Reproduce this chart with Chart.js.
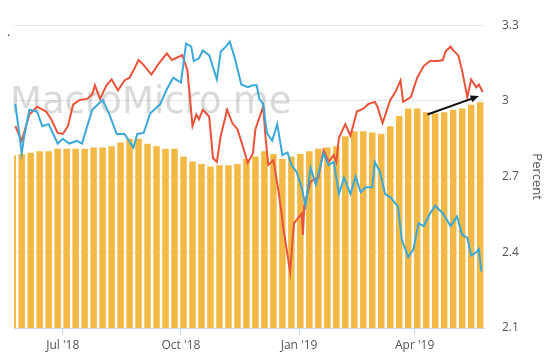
<!DOCTYPE html>
<html>
<head>
<meta charset="utf-8">
<script src="https://cdn.jsdelivr.net/npm/chart.js@4.4.0/dist/chart.umd.min.js"></script>
<style>
html, body { margin: 0; padding: 0; background: #fff; }
#wrap { width: 554px; height: 362px; }
</style>
</head>
<body>
<div id="wrap"><canvas id="chart"></canvas></div>
<script>
const startDate = "2018-05-24";
const endDate = "2019-05-25";
const tickDates = ["2018-07-01", "2018-10-01", "2019-01-01", "2019-04-01"];
const tickLabels = ["Jul '18", "Oct '18", "Jan '19", "Apr '19"];
const yTicks = [2.1, 2.4, 2.7, 3, 3.3];

// weekly bars
const barDates = ["2018-05-23", "2018-05-30", "2018-06-06", "2018-06-13", "2018-06-20", "2018-06-27",
    "2018-07-04", "2018-07-11", "2018-07-18", "2018-07-25", "2018-08-01", "2018-08-08", "2018-08-15",
    "2018-08-22", "2018-08-29", "2018-09-05", "2018-09-12", "2018-09-19", "2018-09-26", "2018-10-03",
    "2018-10-10", "2018-10-17", "2018-10-24", "2018-10-31", "2018-11-07", "2018-11-14", "2018-11-21",
    "2018-11-28", "2018-12-05", "2018-12-12", "2018-12-19", "2018-12-26", "2019-01-02", "2019-01-09",
    "2019-01-16", "2019-01-23", "2019-01-30", "2019-02-06", "2019-02-13", "2019-02-20", "2019-02-27",
    "2019-03-06", "2019-03-13", "2019-03-20", "2019-03-27", "2019-04-03", "2019-04-10", "2019-04-17",
    "2019-04-24", "2019-05-01", "2019-05-08", "2019-05-15", "2019-05-22"];
const barValues = [2.785, 2.79, 2.795, 2.80, 2.80, 2.81, 2.81, 2.81, 2.81, 2.815,
    2.815, 2.82, 2.835, 2.85, 2.85, 2.83, 2.82, 2.81, 2.81, 2.78,
    2.76, 2.75, 2.74, 2.745, 2.745, 2.75, 2.77, 2.78, 2.80, 2.79,
    2.77, 2.78, 2.79, 2.80, 2.81, 2.815, 2.82, 2.86, 2.88, 2.88,
    2.875, 2.87, 2.90, 2.94, 2.97, 2.97, 2.955, 2.95, 2.955, 2.965,
    2.97, 2.985, 2.995];

const redDates = ["2018-05-25", "2018-05-30", "2018-06-05", "2018-06-11", "2018-06-18", "2018-06-22",
    "2018-06-27", "2018-07-01", "2018-07-05", "2018-07-09", "2018-07-14", "2018-07-20", "2018-07-24",
    "2018-07-26", "2018-07-30", "2018-08-04", "2018-08-08", "2018-08-13", "2018-08-18", "2018-08-22",
    "2018-08-26", "2018-08-29", "2018-09-02", "2018-09-08", "2018-09-14", "2018-09-20", "2018-09-24",
    "2018-10-02", "2018-10-06", "2018-10-10", "2018-10-13", "2018-10-15", "2018-10-18", "2018-10-23",
    "2018-10-26", "2018-10-29", "2018-11-01", "2018-11-06", "2018-11-10", "2018-11-14", "2018-11-18",
    "2018-11-22", "2018-11-26", "2018-11-28", "2018-12-04", "2018-12-06", "2018-12-08", "2018-12-12",
    "2018-12-16", "2018-12-20", "2018-12-25", "2018-12-28", "2019-01-03", "2019-01-04", "2019-01-05",
    "2019-01-10", "2019-01-16", "2019-01-20", "2019-01-24", "2019-01-28", "2019-01-30", "2019-02-01",
    "2019-02-06", "2019-02-10", "2019-02-15", "2019-02-20", "2019-02-24", "2019-03-01", "2019-03-03",
    "2019-03-07", "2019-03-13", "2019-03-17", "2019-03-21", "2019-03-23", "2019-03-29", "2019-04-03",
    "2019-04-08", "2019-04-13", "2019-04-19", "2019-04-23", "2019-04-25", "2019-04-29", "2019-05-01",
    "2019-05-05", "2019-05-08", "2019-05-12", "2019-05-15", "2019-05-19", "2019-05-21", "2019-05-24"];
const redValues = [2.90, 2.842, 2.946, 2.977, 2.958, 2.927,
    2.873, 2.869, 2.90, 2.985, 3.004, 3.008, 3.027,
    3.062, 3.008, 3.062, 3.085, 3.042, 3.081, 3.092,
    3.131, 3.162, 3.142, 3.104, 3.15, 3.188, 3.162,
    3.181, 3.123, 2.90, 2.946, 2.927, 2.965, 2.938,
    2.773, 2.758, 2.862, 2.965, 2.912, 2.888, 2.823,
    2.754, 2.792, 2.888, 2.977, 2.85, 2.746, 2.765,
    2.642, 2.488, 2.323, 2.515, 2.554, 2.469, 2.585,
    2.681, 2.696, 2.804, 2.758, 2.785, 2.758, 2.854,
    2.908, 2.862, 2.958, 2.969, 2.988, 2.996, 2.977,
    2.912, 3.004, 3.035, 3.081, 2.996, 3.015, 3.092,
    3.138, 3.158, 3.158, 3.162, 3.196, 3.215, 3.20,
    3.181, 3.119, 3.015, 3.085, 3.054, 3.065, 3.035];

const blueDates = ["2018-05-25", "2018-05-27", "2018-05-30", "2018-06-01", "2018-06-05", "2018-06-11",
    "2018-06-15", "2018-06-20", "2018-06-27", "2018-07-01", "2018-07-06", "2018-07-12", "2018-07-16",
    "2018-07-20", "2018-07-24", "2018-08-01", "2018-08-06", "2018-08-12", "2018-08-18", "2018-08-25",
    "2018-08-28", "2018-09-02", "2018-09-07", "2018-09-15", "2018-09-20", "2018-09-25", "2018-10-01",
    "2018-10-05", "2018-10-09", "2018-10-11", "2018-10-15", "2018-10-18", "2018-10-23", "2018-10-29",
    "2018-11-01", "2018-11-05", "2018-11-08", "2018-11-12", "2018-11-17", "2018-11-22", "2018-11-26",
    "2018-11-29", "2018-12-01", "2018-12-04", "2018-12-07", "2018-12-11", "2018-12-15", "2018-12-19",
    "2018-12-23", "2018-12-26", "2018-12-30", "2019-01-03", "2019-01-06", "2019-01-10", "2019-01-14",
    "2019-01-20", "2019-01-24", "2019-01-28", "2019-02-01", "2019-02-05", "2019-02-10", "2019-02-14",
    "2019-02-18", "2019-02-22", "2019-02-27", "2019-03-01", "2019-03-05", "2019-03-09", "2019-03-13",
    "2019-03-19", "2019-03-22", "2019-03-27", "2019-03-31", "2019-04-04", "2019-04-08", "2019-04-13",
    "2019-04-17", "2019-04-23", "2019-04-29", "2019-05-04", "2019-05-08", "2019-05-12", "2019-05-15",
    "2019-05-19", "2019-05-21", "2019-05-23"];
const blueValues = [2.988, 2.912, 2.792, 2.862, 2.965, 2.958,
    2.90, 2.908, 2.831, 2.85, 2.831, 2.842, 2.831,
    2.90, 2.965, 3.004, 2.95, 2.869, 2.869, 2.815,
    2.869, 2.873, 2.95, 2.988, 3.046, 3.092, 3.073,
    3.227, 3.215, 3.158, 3.169, 3.20, 3.181, 3.085,
    3.196, 3.215, 3.235, 3.169, 3.065, 3.054, 3.062,
    3.062, 3.008, 2.988, 2.873, 2.842, 2.908, 2.785,
    2.796, 2.746, 2.719, 2.658, 2.585, 2.735, 2.669,
    2.792, 2.746, 2.758, 2.631, 2.696, 2.631, 2.70,
    2.638, 2.658, 2.658, 2.758, 2.719, 2.631, 2.619,
    2.581, 2.45, 2.381, 2.412, 2.515, 2.504, 2.554,
    2.585, 2.554, 2.504, 2.542, 2.469, 2.458, 2.388,
    2.40, 2.412, 2.323];

const arrowFrom = ["2019-04-11", 2.946];
const arrowTo = ["2019-05-21", 3.019];

function day(s) {
    return (Date.parse(s) - Date.parse(startDate)) / 86400000;
}
function points(dates, values) {
    return dates.map((d, i) => ({ x: day(d), y: values[i] }));
}

const watermark = {
    id: "watermark",
    beforeDatasetsDraw(chart) {
        const ctx = chart.ctx;
        const area = chart.chartArea;
        ctx.save();
        ctx.font = "37px 'DejaVu Sans'";
        ctx.fillStyle = "rgba(160,160,160,0.4)";
        ctx.textBaseline = "alphabetic";
        ctx.fillText("MacroMicro.me", area.left - 4, area.top + 88);
        ctx.font = "12px 'Open Sans'";
        ctx.fillStyle = "#333";
        ctx.fillText(".", area.left - 7, area.top + 11);
        ctx.restore();
    }
};

const arrow = {
    id: "arrow",
    afterDatasetsDraw(chart) {
        const ctx = chart.ctx;
        const xs = chart.scales.x, ys = chart.scales.y;
        const x1 = xs.getPixelForValue(day(arrowFrom[0])), y1 = ys.getPixelForValue(arrowFrom[1]);
        const x2 = xs.getPixelForValue(day(arrowTo[0])), y2 = ys.getPixelForValue(arrowTo[1]);
        const a = Math.atan2(y2 - y1, x2 - x1);
        ctx.save();
        ctx.strokeStyle = "#111";
        ctx.fillStyle = "#111";
        ctx.lineWidth = 2;
        ctx.beginPath();
        ctx.moveTo(x1, y1);
        ctx.lineTo(x2 - 6 * Math.cos(a), y2 - 6 * Math.sin(a));
        ctx.stroke();
        ctx.beginPath();
        ctx.moveTo(x2, y2);
        ctx.lineTo(x2 - 9 * Math.cos(a - 0.4), y2 - 9 * Math.sin(a - 0.4));
        ctx.lineTo(x2 - 9 * Math.cos(a + 0.4), y2 - 9 * Math.sin(a + 0.4));
        ctx.closePath();
        ctx.fill();
        ctx.restore();
    }
};

new Chart(document.getElementById("chart").getContext("2d"), {
    type: "bar",
    data: {
        datasets: [{
            type: "line",
            data: points(blueDates, blueValues),
            borderColor: "#3aa9d9",
            borderWidth: 2,
            pointRadius: 0,
            tension: 0,
            order: 1
        }, {
            type: "line",
            data: points(redDates, redValues),
            borderColor: "#e8533a",
            borderWidth: 2,
            pointRadius: 0,
            tension: 0,
            order: 2
        }, {
            type: "bar",
            data: points(barDates, barValues),
            backgroundColor: "#f3b944",
            borderWidth: 0,
            barPercentage: 0.72,
            categoryPercentage: 1,
            order: 3
        }]
    },
    options: {
        responsive: true,
        maintainAspectRatio: false,
        animation: false,
        layout: {
            autoPadding: false,
            padding: { left: 14, top: 16, right: 0, bottom: 0 }
        },
        plugins: {
            legend: { display: false },
            tooltip: { enabled: false }
        },
        scales: {
            x: {
                type: "linear",
                offset: false,
                min: 0,
                max: day(endDate),
                afterBuildTicks: (s) => { s.ticks = tickDates.map(d => ({ value: day(d) })); },
                afterFit: (s) => { s.height = 34; },
                grid: {
                    offset: false,
                    drawOnChartArea: false,
                    drawTicks: true,
                    tickLength: 7,
                    color: "#ccd6eb"
                },
                border: { color: "#ccd6eb" },
                ticks: {
                    autoSkip: false,
                    maxRotation: 0,
                    padding: 3,
                    color: "#555",
                    font: { family: "'Open Sans'", size: 12 },
                    callback: (v, i) => tickLabels[i]
                }
            },
            y: {
                position: "right",
                min: 2.1,
                max: 3.3,
                afterBuildTicks: (s) => { s.ticks = yTicks.map(v => ({ value: v })); },
                afterFit: (s) => { s.width = 70; },
                grid: { color: "#e6e6e6", drawTicks: false },
                border: { display: false },
                ticks: {
                    padding: 18,
                    color: "#555",
                    font: { family: "'Open Sans'", size: 12 },
                    callback: (v) => String(Number(v.toFixed(1)))
                },
                title: {
                    display: true,
                    text: "Percent",
                    color: "#555",
                    font: { family: "'Open Sans'", size: 13 },
                    padding: { top: 9, bottom: 0 }
                }
            }
        }
    },
    plugins: [watermark, arrow]
});
</script>
</body>
</html>
